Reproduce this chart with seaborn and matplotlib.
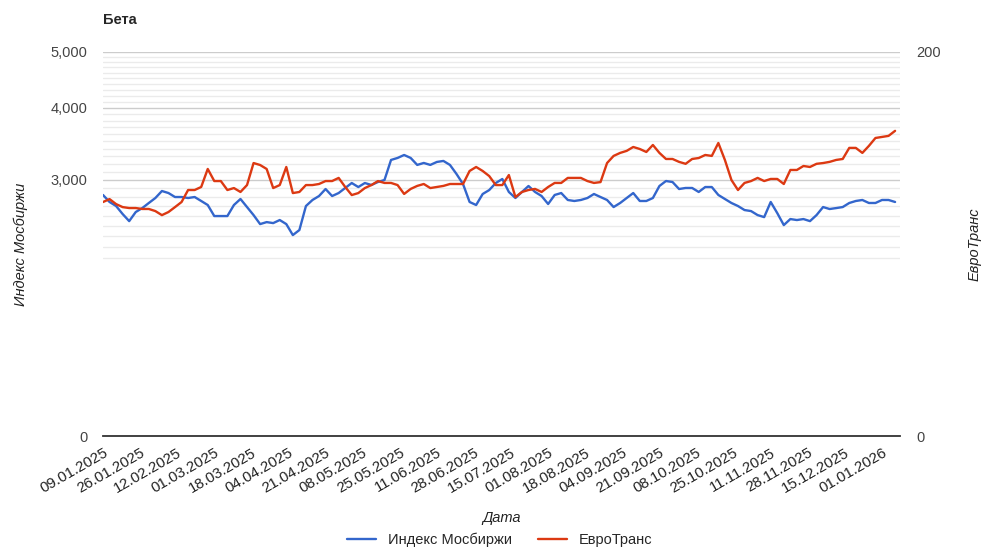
import numpy as np
import pandas as pd
import matplotlib
matplotlib.use("Agg")
import matplotlib.pyplot as plt
import matplotlib.ticker as mticker
import seaborn as sns

# ==========================================
# data (one point every 3 days)
# ==========================================
dates = pd.date_range("2025-01-09", periods=122, freq="3D")

imoex = [2826, 2748, 2704, 2619, 2546, 2640, 2682, 2737, 2792, 2871,
         2848, 2803, 2803, 2792, 2803, 2759, 2715, 2598, 2598, 2598,
         2715, 2781, 2693, 2608, 2516, 2536, 2526, 2557, 2516, 2408,
         2457, 2704, 2770, 2814, 2894, 2814, 2848, 2906, 2964, 2917,
         2964, 2941, 2976, 3000, 3250, 3276, 3315, 3276, 3186, 3211,
         3186, 3224, 3237, 3186, 3073, 2952, 2748, 2715, 2837, 2882,
         2964, 3012, 2860, 2792, 2860, 2929, 2860, 2814, 2726, 2826,
         2848, 2770, 2759, 2770, 2792, 2837, 2803, 2770, 2693, 2737,
         2792, 2848, 2759, 2759, 2792, 2929, 2988, 2976, 2894, 2906,
         2906, 2860, 2917, 2917, 2826, 2781, 2737, 2704, 2661, 2650,
         2608, 2587, 2748, 2629, 2506, 2567, 2557, 2567, 2546, 2608,
         2693, 2672, 2682, 2693, 2737, 2759, 2770, 2737, 2737, 2770,
         2770, 2748]

eurotrans = [109.9, 111.2, 109.0, 107.7, 107.3, 107.3, 106.9, 106.9, 106.0, 104.3,
             105.6, 107.7, 109.9, 115.3, 115.3, 116.7, 125.4, 119.5, 119.5, 115.3,
             116.2, 114.4, 117.6, 128.4, 127.4, 125.4, 116.2, 117.6, 126.4, 113.9,
             114.4, 117.6, 117.6, 118.1, 119.5, 119.5, 121.0, 116.7, 113.0, 113.9,
             116.2, 117.6, 119.5, 118.6, 118.6, 117.6, 113.5, 115.8, 117.2, 118.1,
             116.2, 116.7, 117.2, 118.1, 118.1, 118.1, 124.4, 126.4, 124.4, 121.9,
             117.6, 117.6, 122.4, 112.1, 114.4, 115.3, 115.8, 114.4, 116.7, 118.6,
             118.6, 121.0, 121.0, 121.0, 119.5, 118.6, 119.0, 128.4, 132.1, 133.7,
             134.8, 136.9, 135.8, 134.2, 138.0, 133.7, 130.5, 130.5, 129.0, 128.0,
             130.5, 131.0, 132.6, 132.1, 139.1, 130.0, 120.0, 115.3, 118.6, 119.5,
             121.0, 119.5, 120.5, 120.5, 118.1, 124.9, 124.9, 126.9, 126.4, 128.0,
             128.4, 129.0, 130.0, 130.5, 136.4, 136.4, 133.7, 137.5, 141.9, 142.5,
             143.1, 146.0]

tick_dates = pd.date_range("2025-01-09", "2026-01-01", freq="17D")
left_ticks = [1080, 3000, 4000, 5000]
left_labels = ["0", "3,000", "4,000", "5,000"]
right_ticks = [43.2, 200]
right_labels = ["0", "200"]

BLUE = "#3366cc"
RED = "#dc3912"

# ==========================================
# figure
# ==========================================
sns.set_style("white")
plt.rcParams["font.family"] = ["Liberation Sans", "DejaVu Sans"]

fig, ax = plt.subplots(figsize=(10, 5.59), dpi=100)
fig.subplots_adjust(left=0.103, right=0.9, bottom=0.22, top=0.907)
ax2 = ax.twinx()

sns.lineplot(x=dates, y=imoex, ax=ax, color=BLUE, linewidth=1.7, legend=False)
sns.lineplot(x=dates, y=eurotrans, ax=ax2, color=RED, linewidth=1.7, legend=False)

for a in (ax, ax2):
    a.set_yscale("log")
    for s in a.spines.values():
        s.set_visible(False)
    a.tick_params(which="both", length=0)

ax.set_ylim(left_ticks[0], left_ticks[-1])
ax2.set_ylim(right_ticks[0], right_ticks[-1])
ax.set_xlim(pd.Timestamp("2025-01-09"), pd.Timestamp("2026-01-09 06:00"))

# left axis ticks + gridlines
ax.yaxis.set_major_locator(mticker.FixedLocator(left_ticks))
ax.yaxis.set_major_formatter(mticker.FixedFormatter(left_labels))
minor = [v for v in np.arange(2200, 5000, 100) if v not in (3000, 4000)]
ax.yaxis.set_minor_locator(mticker.FixedLocator(minor))
ax.yaxis.set_minor_formatter(mticker.NullFormatter())
ax.grid(which="major", axis="y", color="#cccccc", linewidth=1.0)
ax.grid(which="minor", axis="y", color="#ebebeb", linewidth=1.0)
ax.grid(which="both", axis="x", visible=False)
ax.spines["bottom"].set_visible(True)
ax.spines["bottom"].set_color("#333333")
ax.spines["bottom"].set_linewidth(1.3)
ax.tick_params(axis="y", labelsize=10.5, labelcolor="#444444", pad=11)

# right axis
ax2.yaxis.set_major_locator(mticker.FixedLocator(right_ticks))
ax2.yaxis.set_major_formatter(mticker.FixedFormatter(right_labels))
ax2.yaxis.set_minor_locator(mticker.NullLocator())
ax2.grid(False)
ax2.tick_params(axis="y", labelsize=10.5, labelcolor="#444444", pad=12)

# x axis
ax.set_xticks(tick_dates)
ax.set_xticklabels([d.strftime("%d.%m.%Y") for d in tick_dates],
                   rotation=30, ha="right", rotation_mode="anchor")
ax.tick_params(axis="x", labelsize=10.8, labelcolor="#222222", pad=7)

# labels
ax.set_title("Бета", loc="left", fontsize=10.5, fontweight="bold", pad=20)
ax.set_ylabel("Индекс Мосбиржи", fontsize=10.5, style="italic", color="#222222")
ax.yaxis.set_label_coords(-0.094, 0.5)
ax2.set_ylabel("ЕвроТранс", fontsize=10.5, style="italic", color="#222222")
ax2.yaxis.set_label_coords(1.085, 0.5)
ax.set_xlabel("Дата", fontsize=10.5, style="italic", color="#222222")
ax.xaxis.set_label_coords(0.5, -0.195)

fig.legend([ax.lines[0], ax2.lines[0]], ["Индекс Мосбиржи", "ЕвроТранс"],
           loc="center", bbox_to_anchor=(0.5, 0.034), ncol=2, frameon=False,
           handlelength=2.0, columnspacing=1.8, fontsize=10.5)

fig.savefig("out.png", dpi=100, facecolor="white")
